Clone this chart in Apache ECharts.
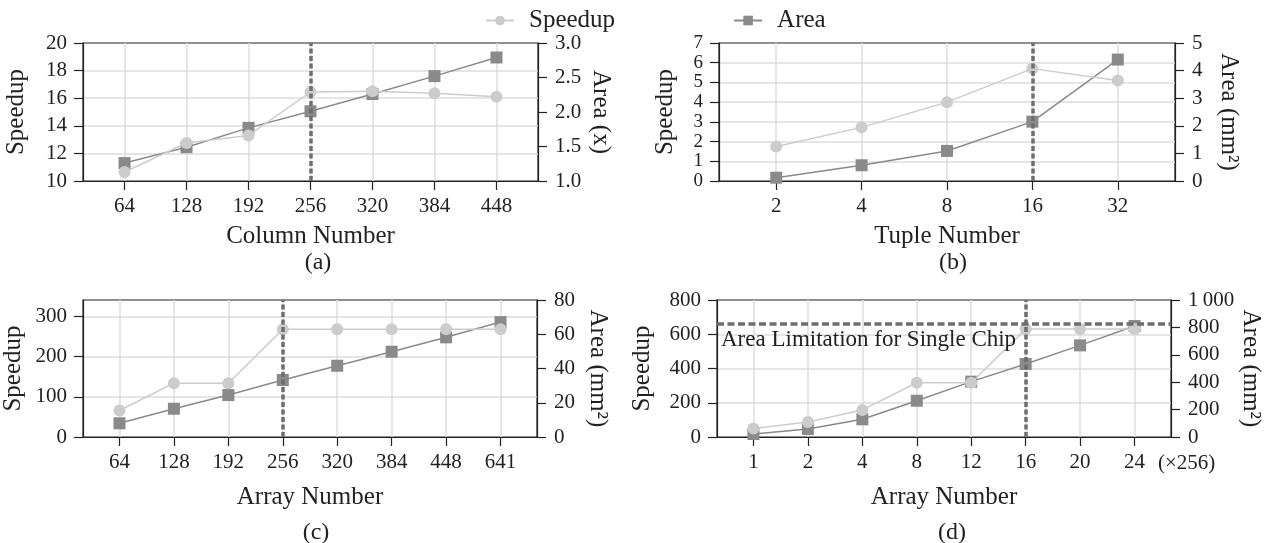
<!DOCTYPE html>
<html>
<head>
<meta charset="utf-8">
<script src="https://cdn.jsdelivr.net/npm/echarts@6/dist/echarts.min.js"></script>
<style>
  html, body { margin: 0; padding: 0; background: #fff; }
  #main { width: 1271px; height: 543px; }
</style>
</head>
<body>
<div id="main"></div>
<script>
// (a) column number sweep
var colLabels = ['64', '128', '192', '256', '320', '384', '448'];
var colSpeedup = [10.65, 12.75, 13.3, 16.45, 16.5, 16.35, 16.1];
var colArea = [1.26, 1.49, 1.77, 2.01, 2.26, 2.52, 2.79];

// (b) tuple number sweep
var tupleLabels = ['2', '4', '8', '16', '32'];
var tupleSpeedup = [1.75, 2.72, 4.0, 5.7, 5.1];
var tupleArea = [0.12, 0.57, 1.09, 2.15, 4.4];

// (c) array number sweep
var arrayLabels = ['64', '128', '192', '256', '320', '384', '448', '641'];
var arraySpeedup = [66, 134, 134, 268, 268, 268, 268, 268];
var arrayArea = [8, 16.5, 24.5, 33.3, 41.6, 49.8, 58.2, 67.1];

// (d) array number (x256) sweep
var chipLabels = ['1', '2', '4', '8', '12', '16', '20', '24'];
var chipSpeedup = [50, 88, 158, 317, 317, 630, 630, 630];
var chipArea = [22, 58, 129, 265, 404, 533, 669, 810];
var areaLimit = 825;

var FONT = 'Liberation Serif';
var INK = '#222';
var LIGHT = '#cccccc';
var DARK = '#8a8a8a';
var DASH = '#6e6e6e';

var panels = [
  { grid: { left: 83, top: 43, width: 455, height: 138 }, labels: colLabels, speedup: colSpeedup, area: colArea,
    xName: 'Column Number', xGap: 43, left: { min: 10, max: 20, interval: 2 }, right: { min: 1, max: 3, interval: 0.5 },
    rightName: 'Area (x)', leftGap: 54, rightGap: 50, mark: 4, tickFont: 21, fmt: function (v) { return v.toFixed(1); } },
  { grid: { left: 719, top: 43, width: 456, height: 138 }, labels: tupleLabels, speedup: tupleSpeedup, area: tupleArea,
    xName: 'Tuple Number', xGap: 43, left: { min: 0, max: 7, interval: 1 }, right: { min: 0, max: 5, interval: 1 },
    rightName: 'Area (mm\u00b2)', leftGap: 41, rightGap: 41, mark: 4, tickFont: 19 },
  { grid: { left: 83, top: 300, width: 454, height: 137 }, labels: arrayLabels, speedup: arraySpeedup, area: arrayArea,
    xName: 'Array Number', xGap: 48, left: { min: 0, max: 341, interval: 100 }, right: { min: 0, max: 80, interval: 20 },
    rightName: 'Area (mm\u00b2)', leftGap: 57, rightGap: 48, mark: 4, tickFont: 21 },
  { grid: { left: 717, top: 300, width: 454, height: 137 }, labels: chipLabels, speedup: chipSpeedup, area: chipArea,
    xName: 'Array Number', xGap: 48, left: { min: 0, max: 800, interval: 200 }, right: { min: 0, max: 1000, interval: 200 },
    rightName: 'Area (mm\u00b2)', leftGap: 62, rightGap: 59, mark: 6, limit: areaLimit, tickFont: 21,
    fmt: function (v) { return v >= 1000 ? '1\u2009000' : String(v); } }
];

var grids = [], xAxes = [], yAxes = [], series = [];

panels.forEach(function (p, i) {
  var n = p.labels.length;
  // categories sit at x = 1..n so that x = 0 never falls inside the axis
  var pos = p.labels.map(function (_, k) { return k + 1; });
  grids.push(Object.assign({ show: true, borderColor: INK, borderWidth: 1.2 }, p.grid));

  xAxes.push({
    type: 'value', gridIndex: i, min: 0.33, max: n + 0.67,
    name: p.xName, nameLocation: 'middle', nameGap: p.xGap,
    nameTextStyle: { fontFamily: FONT, fontSize: 25, color: INK },
    axisLine: { onZero: false, lineStyle: { color: INK, width: 1.2 } },
    axisTick: { customValues: pos, length: 9, lineStyle: { color: INK, width: 1.2 } },
    axisLabel: { customValues: pos, margin: 15, fontFamily: FONT, fontSize: 21, color: INK,
      formatter: function (v) { return p.labels[Math.round(v) - 1]; } },
    splitLine: { show: true, lineStyle: { color: '#dcdcdc', width: 1.5 } }
  });

  yAxes.push({
    type: 'value', gridIndex: i, position: 'left',
    min: p.left.min, max: p.left.max, interval: p.left.interval,
    name: 'Speedup', nameLocation: 'middle', nameGap: p.leftGap,
    nameTextStyle: { fontFamily: FONT, fontSize: 25, color: INK },
    axisLine: { show: true, lineStyle: { color: INK, width: 1.2 } },
    axisTick: { show: true, length: 9, lineStyle: { color: INK, width: 1.2 } },
    axisLabel: { margin: 16, fontFamily: FONT, fontSize: p.tickFont, color: INK,
      showMaxLabel: p.left.max % p.left.interval === 0 ? null : false },
    splitLine: { show: true, showMinLine: false, showMaxLine: false, lineStyle: { color: '#dcdcdc', width: 1.5 } }
  });
  yAxes.push({
    type: 'value', gridIndex: i, position: 'right',
    min: p.right.min, max: p.right.max, interval: p.right.interval,
    name: p.rightName, nameLocation: 'middle', nameGap: p.rightGap, nameRotate: -90,
    nameTextStyle: { fontFamily: FONT, fontSize: 25, color: INK },
    axisLine: { show: true, lineStyle: { color: INK, width: 1.2 } },
    axisTick: { show: true, length: 9, lineStyle: { color: INK, width: 1.2 } },
    axisLabel: { margin: 17, fontFamily: FONT, fontSize: 21, color: INK, formatter: p.fmt },
    splitLine: { show: false }
  });

  var areaSeries = {
    name: 'Area', type: 'line', xAxisIndex: i, yAxisIndex: 2 * i + 1, z: 3,
    data: p.area.map(function (v, k) { return [k + 1, v]; }),
    symbol: 'rect', symbolSize: 12,
    itemStyle: { color: DARK }, lineStyle: { color: DARK, width: 1.5 }
  };
  if (p.limit) {
    areaSeries.markLine = {
      silent: true, symbol: ['none', 'none'], animation: false,
      lineStyle: { type: [7, 3.5], color: DASH, width: 3.5 },
      label: { show: true, position: 'insideStartBottom', distance: 4, formatter: 'Area Limitation for Single Chip',
        fontFamily: FONT, fontSize: 23, color: INK },
      data: [{ yAxis: p.limit }]
    };
  }
  series.push(areaSeries);

  series.push({
    name: 'Speedup', type: 'line', xAxisIndex: i, yAxisIndex: 2 * i, z: 4,
    data: p.speedup.map(function (v, k) { return [k + 1, v]; }),
    symbol: 'circle', symbolSize: 12,
    itemStyle: { color: LIGHT }, lineStyle: { color: LIGHT, width: 1.5 },
    markLine: {
      silent: true, symbol: ['none', 'none'], animation: false,
      lineStyle: { type: [5, 2.5], color: DASH, width: 3.5 },
      label: { show: false },
      data: [{ xAxis: p.mark }]
    }
  });
});

var captions = [['(a)', 318, 263], ['(b)', 953, 263], ['(c)', 316, 533], ['(d)', 952, 533]];

var option = {
  animation: false,
  legend: {
    data: ['Speedup', 'Area'], left: 480, top: 3, itemWidth: 28, itemHeight: 12, itemGap: 118,
    textStyle: { fontFamily: FONT, fontSize: 25, color: INK, padding: [0, 0, 0, 10] }
  },
  grid: grids,
  xAxis: xAxes,
  yAxis: yAxes,
  series: series,
  graphic: captions.map(function (c) {
    return { type: 'text', x: c[1], y: c[2],
      style: { text: c[0], align: 'center', verticalAlign: 'middle', font: '24px "' + FONT + '"', fill: INK } };
  }).concat([{ type: 'text', x: 1158, y: 463,
    style: { text: '(\u00d7256)', align: 'left', verticalAlign: 'middle', font: '21px "' + FONT + '"', fill: INK } }])
};

var myChart = echarts.init(document.getElementById('main'));
myChart.setOption(option);
</script>
</body>
</html>
